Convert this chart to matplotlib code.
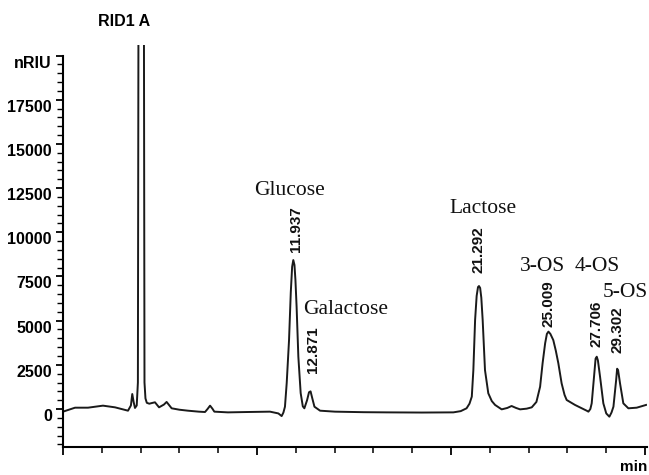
import numpy as np
import matplotlib.pyplot as plt
from matplotlib.ticker import MultipleLocator, FixedLocator

# trace (time in min, signal in nRIU)
t = [0.00, 0.62, 1.29, 2.06, 2.68, 3.35, 3.50, 3.57, 3.64, 3.71, 3.80,
     3.86, 3.90, 4.03, 4.16, 4.20, 4.25, 4.32, 4.45, 4.55, 4.74, 4.95,
     5.20, 5.34, 5.60, 6.00, 6.44, 7.00, 7.32, 7.45, 7.58, 7.70, 7.80,
     8.50, 9.50, 10.67, 11.10, 11.27, 11.36, 11.44, 11.53, 11.65, 11.74,
     11.81, 11.87, 11.93, 11.98, 12.04, 12.13, 12.25, 12.36, 12.44, 12.58,
     12.68, 12.76, 12.85, 12.96, 13.25, 14.02, 15.50, 16.68, 18.50, 20.12,
     20.50, 20.80, 20.95, 21.07, 21.15, 21.24, 21.32, 21.39, 21.44, 21.50,
     21.56, 21.63, 21.75, 21.92, 22.10, 22.27, 22.61, 22.90, 23.12, 23.35,
     23.56, 23.90, 24.16, 24.40, 24.59, 24.72, 24.85, 24.94, 25.02, 25.12,
     25.27, 25.40, 25.53, 25.70, 25.85, 25.96, 26.39, 26.74, 27.00, 27.08,
     27.18, 27.25, 27.37, 27.45, 27.51, 27.57, 27.68, 27.85, 28.00, 28.16,
     28.27, 28.37, 28.51, 28.56, 28.61, 28.71, 28.88, 29.14, 29.57, 30.05]
signal = [-150, 75, 75, 190, 95, -95, 200, 850, 400, 60, 200,
          1500, 30000, 45000, 30000, 1500, 600, 350, 300, 330, 380, 95,
          250, 400, 40, -40, -95, -150, -170, 0, 190, 20, -150,
          -190, -170, -150, -250, -400, -200, 130, 1470, 3900, 6600,
          8050, 8430, 8150, 7300, 5790, 2960, 900, 150, 40, 500,
          950, 1000, 600, 130, -95, -150, -180, -190, -200, -190,
          -120, 40, 300, 700, 2200, 5040, 6400, 6900, 6960, 6850,
          6300, 5040, 2200, 890, 450, 230, -20, 60, 170, 60,
          -20, 20, 95, 400, 1260, 2600, 3720, 4250, 4380, 4250,
          3900, 3300, 2590, 1450, 800, 510, 230, 40, -100, -150,
          0, 320, 1830, 2850, 2960, 2750, 1830, 320, -250, -435,
          -200, 130, 1640, 2280, 2200, 1450, 320, 40, 75, 230]

# labelled peaks
names = ['Glucose', 'Galactose', 'Lactose', '3-OS', '4-OS', '5-OS']
rt_labels = ['11.937', '12.871', '21.292', '25.009', '27.706', '29.302']
peak_t = [11.87, 12.73, 21.44, 25.02, 27.51, 28.59]
peak_v = [8430, 1035, 6960, 4380, 2960, 2300]

yticks = [0, 2500, 5000, 7500, 10000, 12500, 15000, 17500, 20000]
ylabels = ['0', '2500', '5000', '7500', '10000', '12500', '15000', '17500', 'nRIU']

fig = plt.figure(figsize=(6.49, 4.75), dpi=100)
ax = fig.add_axes([63 / 649, 28 / 475, 584 / 649, 402 / 475])

ax.plot(t, signal, color='#1a1a1a', lw=1.4)
ax.set_xlim(0, 30.1)
ax.set_ylim(-2150, 20600)

for s in ['top', 'right']:
    ax.spines[s].set_visible(False)
ax.spines['left'].set_bounds(-2150, 20000)
ax.spines['bottom'].set_bounds(0, 30.1)
ax.spines['left'].set_linewidth(1.5)
ax.spines['bottom'].set_linewidth(1.5)

ax.set_yticks(yticks)
ax.set_yticklabels(ylabels, fontfamily='Liberation Sans', fontweight='bold',
                   fontsize=11.5)
ax.yaxis.set_minor_locator(FixedLocator(np.arange(-2000, 20001, 500)))
ax.tick_params(axis='y', which='major', length=5, width=1.3, pad=3)
ax.tick_params(axis='y', which='minor', length=4, width=1.0)
plt.setp(ax.get_yticklabels(), va='top')

ax.set_xticks([0, 10, 20, 30])
ax.set_xticklabels([])
ax.xaxis.set_minor_locator(MultipleLocator(2))
ax.tick_params(axis='x', which='major', length=6, width=1.3)
ax.tick_params(axis='x', which='minor', length=4, width=1.1)

# compound names (serif) and retention times (rotated, bold)
name_off = [(-4, 70, 'center'), (-7, 81, 'left'), (4, 78, 'center'),
            (-6, 65, 'center'), (1, 90, 'center'), (-15, 76, 'left')]
rt_off = [(3, 8), (3, 18), (0, 13), (0, 5), (0, 10), (0, 15)]
for i in range(len(names)):
    dx, dy, ha = name_off[i]
    ax.annotate(names[i], (peak_t[i], peak_v[i]), xytext=(dx, dy),
                textcoords='offset pixels', ha=ha, va='center',
                fontfamily='Liberation Serif', fontsize=15.5, color='#111111',
                annotation_clip=False)
    dx, dy = rt_off[i]
    ax.annotate(rt_labels[i], (peak_t[i], peak_v[i]), xytext=(dx, dy),
                textcoords='offset pixels', ha='center', va='bottom',
                rotation=90, fontfamily='Liberation Sans', fontweight='bold',
                fontsize=11, color='#111111', annotation_clip=False)

fig.text(124 / 649, 1 - 22 / 475, 'RID1 A', ha='center', va='center',
         fontfamily='Liberation Sans', fontweight='bold', fontsize=11.5)
fig.text(647 / 649, 1 - 467 / 475, 'min', ha='right', va='center',
         fontfamily='Liberation Sans', fontweight='bold', fontsize=11)

fig.savefig('out.png', dpi=100)
